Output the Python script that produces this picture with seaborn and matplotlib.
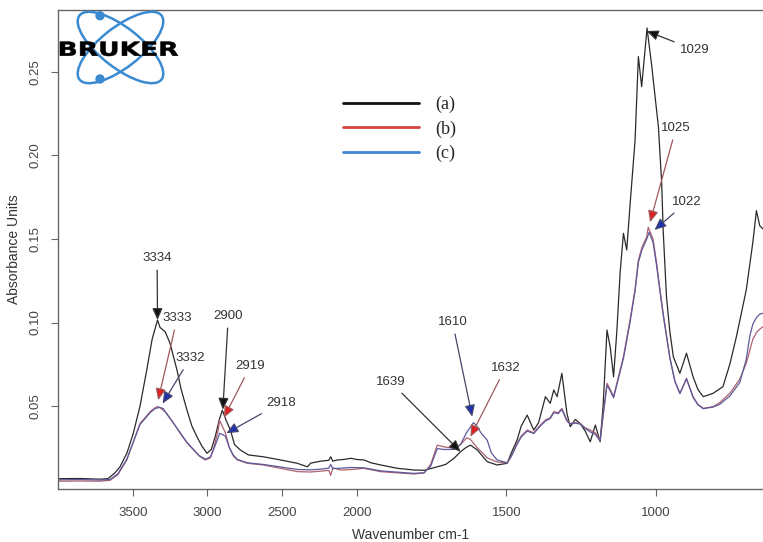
import numpy as np
import pandas as pd
import matplotlib
matplotlib.use("Agg")
import matplotlib.pyplot as plt
import seaborn as sns
from matplotlib.patches import Ellipse, Circle, PathPatch
from matplotlib.lines import Line2D
from matplotlib.textpath import TextPath
from matplotlib.font_manager import FontProperties
from matplotlib.transforms import Affine2D, IdentityTransform
from matplotlib.ticker import NullLocator

# spectrum (a) - black
wn_a = [4002, 3854, 3720, 3666, 3619, 3585, 3538, 3496, 3451, 3406, 3370, 3334, 3317, 3283,
        3250, 3204, 3176, 3137, 3104, 3070, 3037, 3003, 2974, 2947, 2920, 2900, 2873, 2846,
        2819, 2779, 2725, 2625, 2510, 2398, 2331, 2309, 2242, 2188, 2175, 2161, 2130, 2087,
        2040, 2000, 1976, 1953, 1920, 1864, 1809, 1775, 1731, 1703, 1675, 1653, 1636, 1620,
        1597, 1564, 1531, 1497, 1483, 1464, 1450, 1430, 1419, 1408, 1392, 1369, 1353, 1341,
        1330, 1314, 1297, 1286, 1269, 1253, 1236, 1219, 1202, 1186, 1176, 1163, 1152, 1141,
        1130, 1119, 1108, 1097, 1086, 1069, 1058, 1047, 1029, 1013, 1002, 991, 980, 975, 964,
        953, 941, 919, 897, 875, 859, 841, 808, 775, 752, 730, 697, 675, 663, 652, 641]
abs_a = [0.0065, 0.0066, 0.0062, 0.0065, 0.0100, 0.0136, 0.0220, 0.0337, 0.0500, 0.0716,
         0.0900, 0.1015, 0.0970, 0.0945, 0.0875, 0.0716, 0.0600, 0.0476, 0.0380, 0.0316,
         0.0260, 0.0217, 0.0240, 0.0320, 0.0420, 0.0475, 0.0410, 0.0356, 0.0270, 0.0236,
         0.0207, 0.0196, 0.0177, 0.0157, 0.0136, 0.0158, 0.0170, 0.0175, 0.0196, 0.0170,
         0.0177, 0.0180, 0.0187, 0.0180, 0.0177, 0.0160, 0.0147, 0.0127, 0.0117, 0.0115,
         0.0136, 0.0150, 0.0187, 0.0226, 0.0250, 0.0266, 0.0237, 0.0167, 0.0147, 0.0157,
         0.0220, 0.0296, 0.0380, 0.0446, 0.0400, 0.0356, 0.0400, 0.0556, 0.0516, 0.0596,
         0.0556, 0.0696, 0.0456, 0.0376, 0.0420, 0.0396, 0.0350, 0.0286, 0.0386, 0.0286,
         0.0500, 0.0955, 0.0850, 0.0675, 0.0950, 0.1300, 0.1534, 0.1434, 0.1700, 0.2093,
         0.2592, 0.2412, 0.2763, 0.2532, 0.2350, 0.2173, 0.1833, 0.1550, 0.1155, 0.0950,
         0.0795, 0.0696, 0.0816, 0.0675, 0.0600, 0.0556, 0.0576, 0.0616, 0.0750, 0.0915,
         0.1195, 0.1480, 0.1670, 0.1580, 0.1560]

# spectrum (b) - red
wn_b = [4002, 3854, 3720, 3652, 3599, 3540, 3498, 3451, 3417, 3384, 3350, 3330, 3303, 3272,
        3229, 3182, 3137, 3093, 3055, 3014, 2980, 2954, 2927, 2919, 2880, 2853, 2826, 2799,
        2732, 2625, 2510, 2396, 2309, 2242, 2188, 2175, 2161, 2107, 2040, 1977, 1920, 1864,
        1809, 1775, 1753, 1731, 1709, 1675, 1653, 1632, 1620, 1597, 1564, 1531, 1497, 1483,
        1464, 1450, 1430, 1408, 1389, 1369, 1353, 1341, 1326, 1314, 1297, 1286, 1269, 1253,
        1236, 1219, 1202, 1186, 1176, 1163, 1152, 1141, 1124, 1108, 1086, 1069, 1058, 1046,
        1030, 1025, 1009, 997, 986, 975, 953, 936, 919, 897, 875, 859, 841, 808, 786, 752,
        719, 697, 675, 663, 652, 641]
abs_b = [0.0050, 0.0051, 0.0050, 0.0055, 0.0090, 0.0177, 0.0280, 0.0396, 0.0430, 0.0466,
         0.0490, 0.0497, 0.0480, 0.0456, 0.0400, 0.0336, 0.0280, 0.0237, 0.0200, 0.0177,
         0.0190, 0.0260, 0.0360, 0.0415, 0.0340, 0.0250, 0.0200, 0.0177, 0.0157, 0.0147,
         0.0127, 0.0107, 0.0105, 0.0110, 0.0115, 0.0085, 0.0130, 0.0117, 0.0120, 0.0127,
         0.0107, 0.0100, 0.0093, 0.0100, 0.0150, 0.0266, 0.0256, 0.0247, 0.0270, 0.0310,
         0.0300, 0.0250, 0.0190, 0.0165, 0.0160, 0.0200, 0.0276, 0.0320, 0.0356, 0.0340,
         0.0380, 0.0416, 0.0430, 0.0466, 0.0460, 0.0486, 0.0416, 0.0396, 0.0400, 0.0396,
         0.0370, 0.0356, 0.0340, 0.0296, 0.0450, 0.0636, 0.0600, 0.0556, 0.0680, 0.0795,
         0.1015, 0.1200, 0.1374, 0.1450, 0.1514, 0.1570, 0.1500, 0.1355, 0.1200, 0.1055,
         0.0795, 0.0650, 0.0576, 0.0666, 0.0556, 0.0510, 0.0486, 0.0496, 0.0520, 0.0576,
         0.0660, 0.0756, 0.0900, 0.0940, 0.0960, 0.0975]

# spectrum (c) - blue
wn_c = [4002, 3854, 3720, 3652, 3599, 3540, 3498, 3451, 3417, 3384, 3350, 3320, 3296, 3272,
        3229, 3182, 3137, 3093, 3055, 3014, 2980, 2954, 2927, 2918, 2880, 2853, 2826, 2799,
        2732, 2625, 2510, 2396, 2309, 2242, 2188, 2175, 2161, 2107, 2040, 1977, 1920, 1864,
        1809, 1775, 1753, 1731, 1709, 1675, 1653, 1633, 1610, 1600, 1585, 1564, 1550, 1531,
        1497, 1483, 1464, 1450, 1430, 1408, 1389, 1369, 1353, 1341, 1326, 1314, 1297, 1286,
        1269, 1253, 1236, 1219, 1202, 1186, 1176, 1163, 1152, 1141, 1124, 1108, 1086, 1069,
        1058, 1046, 1030, 1022, 1009, 997, 986, 975, 953, 936, 919, 897, 875, 859, 841, 808,
        786, 752, 719, 697, 685, 675, 663, 652, 641]
abs_c = [0.0058, 0.0060, 0.0057, 0.0060, 0.0095, 0.0180, 0.0280, 0.0390, 0.0425, 0.0460,
         0.0485, 0.0492, 0.0485, 0.0452, 0.0400, 0.0340, 0.0282, 0.0240, 0.0203, 0.0182,
         0.0195, 0.0250, 0.0315, 0.0337, 0.0320, 0.0250, 0.0205, 0.0180, 0.0160, 0.0150,
         0.0135, 0.0120, 0.0118, 0.0122, 0.0128, 0.0150, 0.0125, 0.0128, 0.0132, 0.0130,
         0.0112, 0.0104, 0.0097, 0.0100, 0.0140, 0.0245, 0.0240, 0.0240, 0.0270, 0.0340,
         0.0400, 0.0385, 0.0340, 0.0296, 0.0220, 0.0177, 0.0160, 0.0200, 0.0270, 0.0315,
         0.0350, 0.0335, 0.0375, 0.0410, 0.0425, 0.0460, 0.0455, 0.0480, 0.0410, 0.0392,
         0.0398, 0.0392, 0.0365, 0.0345, 0.0330, 0.0290, 0.0440, 0.0625, 0.0590, 0.0550,
         0.0670, 0.0785, 0.1000, 0.1190, 0.1360, 0.1435, 0.1500, 0.1540, 0.1480, 0.1340,
         0.1190, 0.1045, 0.0790, 0.0648, 0.0575, 0.0662, 0.0552, 0.0508, 0.0484, 0.0494,
         0.0510, 0.0560, 0.0640, 0.0780, 0.0920, 0.0990, 0.1030, 0.1050, 0.1055]

samples = ["(a)", "(b)", "(c)"]

# peak labels: text, tip wavenumber, tip absorbance, series
peak_lbl = ["3334", "3333", "3332", "2900", "2919", "2918",
            "1639", "1632", "1610", "1029", "1025", "1022"]
peak_wn = [3334, 3330, 3300, 2897, 2890, 2873, 1653, 1620, 1614, 1030, 1019, 1004]
peak_abs = [0.1015, 0.0535, 0.0515, 0.0478, 0.0430, 0.0337,
            0.0226, 0.0316, 0.0436, 0.2745, 0.1600, 0.1554]
peak_series = ["a", "b", "c", "a", "b", "c", "a", "b", "c", "a", "b", "c"]
# where the label text sits
lbl_wn = [3337, 3202, 3115, 2860, 2712, 2510, 1887, 1503, 1680, 869, 932, 896]
lbl_abs = [0.1386, 0.1027, 0.0787, 0.1039, 0.0740, 0.0518,
           0.0644, 0.0728, 0.1003, 0.2632, 0.2165, 0.1722]

sns.set_theme(style="white")
plt.rcParams["font.family"] = ["Liberation Sans", "DejaVu Sans"]

W, H = 763, 542
fig = plt.figure(figsize=(W / 100, H / 100), dpi=100)
ax = fig.add_axes([58 / W, 53.3 / H, 705 / W, 478.7 / H])

df = pd.concat([
    pd.DataFrame({"wavenumber": wn_a, "absorbance": abs_a, "sample": "(a)"}),
    pd.DataFrame({"wavenumber": wn_b, "absorbance": abs_b, "sample": "(b)"}),
    pd.DataFrame({"wavenumber": wn_c, "absorbance": abs_c, "sample": "(c)"}),
])
line_cols = {"(a)": "#2a2a2a", "(b)": "#b0606e", "(c)": "#5c5a9c"}
sns.lineplot(data=df, x="wavenumber", y="absorbance", hue="sample", palette=line_cols,
             sort=False, estimator=None, lw=0.9, legend=False, ax=ax)


# OPUS style axis: the region below 2000 cm-1 is stretched twice
def fwd(w):
    w = np.asarray(w, dtype=float)
    return np.where(w >= 2000, w, 2 * w - 2000)


def inv(p):
    p = np.asarray(p, dtype=float)
    return np.where(p >= 2000, p, (p + 2000) / 2)


ax.set_xscale("function", functions=(fwd, inv))
ax.set_xlim(4000, 641)
ax.set_ylim(0.0005, 0.2871)

xt = [3500, 3000, 2500, 2000, 1500, 1000]
ax.set_xticks(xt)
ax.set_xticklabels([str(t) for t in xt])
ax.xaxis.set_minor_locator(NullLocator())
yt = [0.05, 0.10, 0.15, 0.20, 0.25]
ax.set_yticks(yt)
ax.set_yticklabels(["%.2f" % t for t in yt])
ax.tick_params(axis="both", direction="out", length=5, width=0.8, color="#666666",
               labelcolor="#444444", labelsize=9.5, bottom=True, left=True)
ax.tick_params(axis="x", pad=8)
ax.tick_params(axis="y", pad=7, labelrotation=90)
for t in ax.get_yticklabels():
    t.set_va("center")

for s in ["top", "left", "bottom"]:
    ax.spines[s].set_color("#666666")
    ax.spines[s].set_linewidth(1.0)
ax.spines["right"].set_visible(False)

ax.set_xlabel("Wavenumber cm-1", fontsize=10, color="#333333", labelpad=7)
ax.set_ylabel("Absorbance Units", fontsize=10, color="#333333", labelpad=6)

# peak annotations
ln_col = {"a": "#333333", "b": "#a0585a", "c": "#44476a"}
hd_col = {"a": "#111111", "b": "#e02020", "c": "#2030b0"}
for lab, tw, tv, sr, xw, xv in zip(peak_lbl, peak_wn, peak_abs, peak_series, lbl_wn, lbl_abs):
    ax.annotate(lab, xy=(tw, tv), xytext=(xw, xv), ha="center", va="center",
                fontsize=9.5, color="#333333",
                arrowprops=dict(arrowstyle="-|>,head_length=0.5,head_width=0.22",
                                mutation_scale=14, lw=0.9, ec=ln_col[sr], fc=hd_col[sr],
                                shrinkA=2, shrinkB=0))

# legend
handles = [Line2D([], [], color=c, lw=2) for c in ["#111111", "#d6453d", "#3f86d6"]]
ax.legend(handles, samples, loc="upper left", bbox_to_anchor=(343 / W, 1 - 96 / H),
          bbox_transform=fig.transFigure, frameon=False, borderpad=0, borderaxespad=0,
          handlelength=4.2, handletextpad=0.9, labelspacing=0.4,
          prop=FontProperties(family="Liberation Serif", size=13))

# Bruker logo, drawn in pixel space
blue = "#3a8ad0"
for ang in (38, -38):
    fig.add_artist(Ellipse((120.5, H - 47.5), 104, 40, angle=ang, transform=IdentityTransform(),
                           fill=False, ec=blue, lw=1.8, zorder=5))
for cy in (15.7, 79):
    fig.add_artist(Circle((100, H - cy), 4, transform=IdentityTransform(), color=blue, zorder=6))
tp = TextPath((0, 0), "BRUKER", size=1, prop=FontProperties(family="DejaVu Sans", weight="bold"))
ext = tp.get_extents()
tr = Affine2D().translate(-ext.x0, -ext.y0).scale(118 / ext.width, 14.3 / ext.height).translate(60, H - 56)
fig.add_artist(PathPatch(tp, transform=tr, fc="black", ec="black", lw=0.4, zorder=7))

fig.savefig("out.png", dpi=100)
